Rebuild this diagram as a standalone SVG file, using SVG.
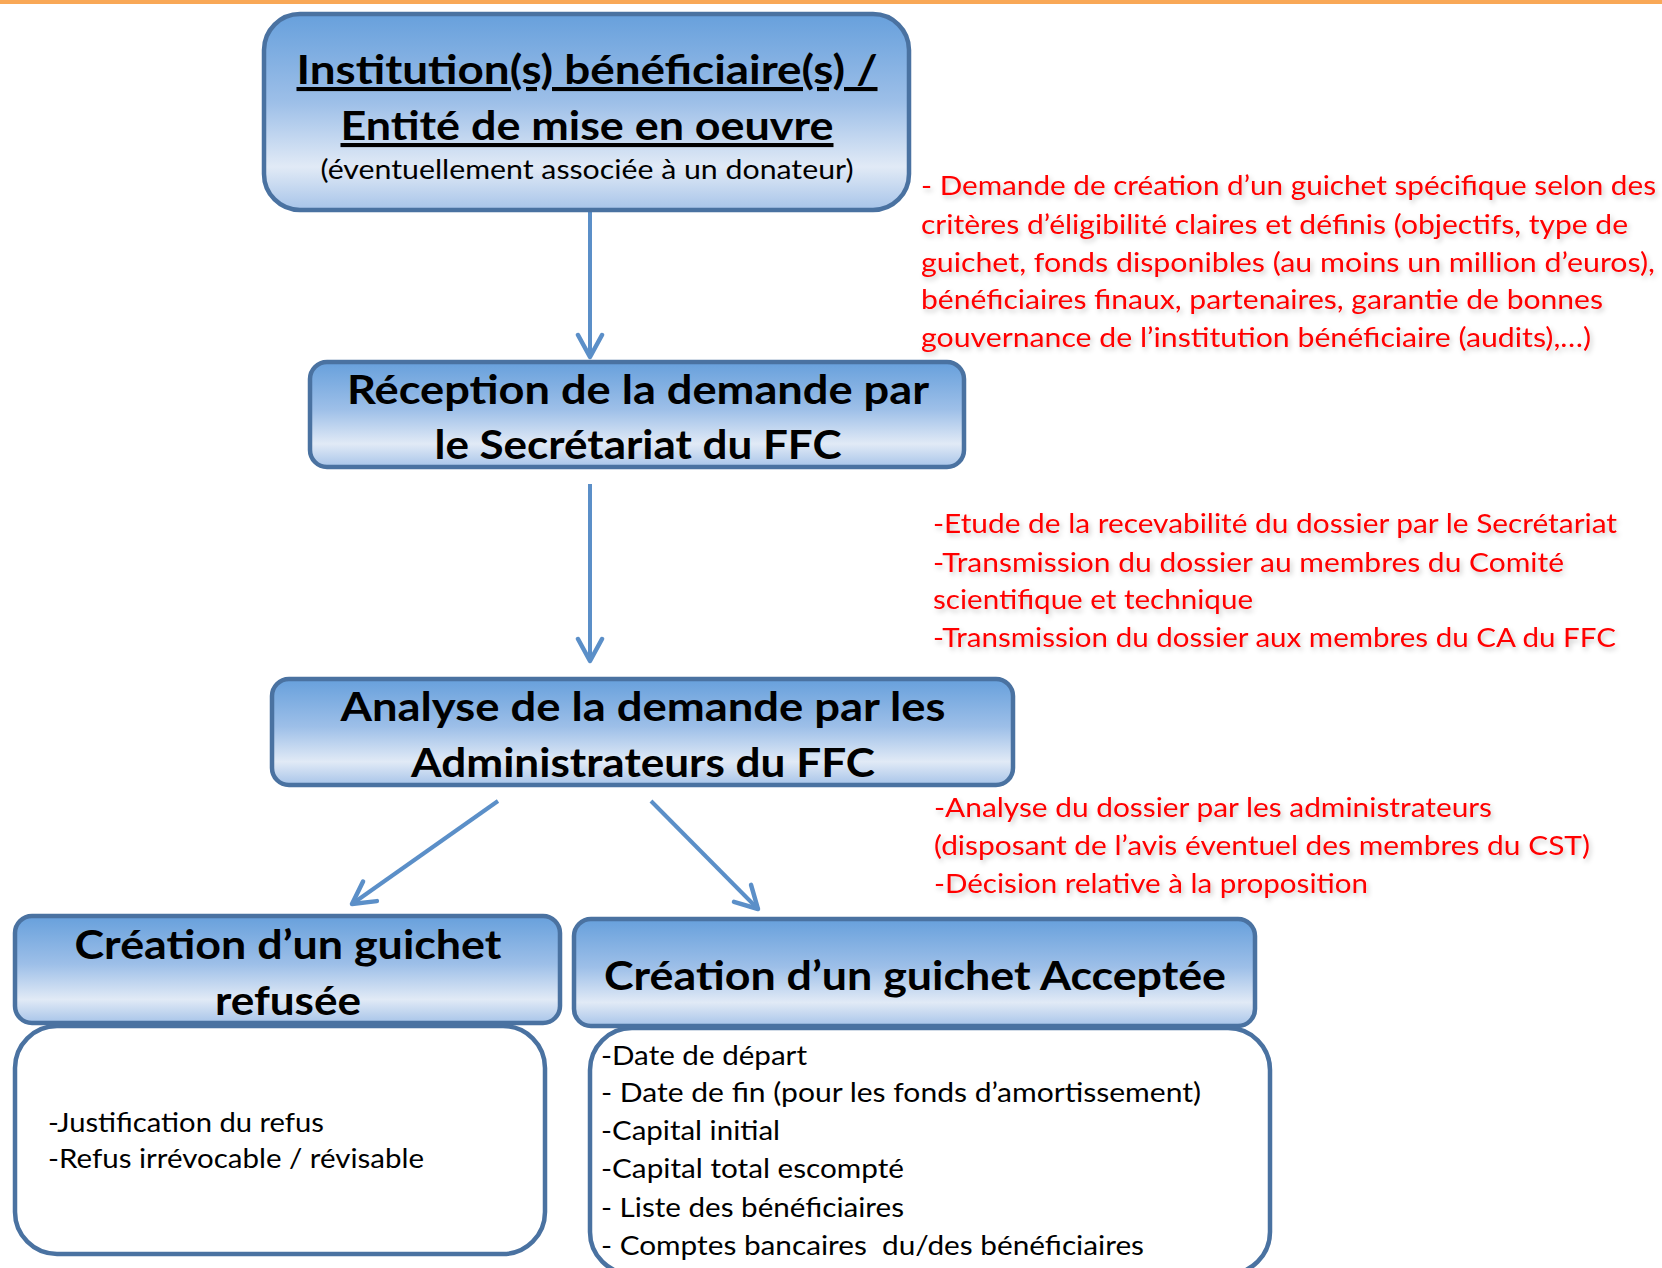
<svg xmlns="http://www.w3.org/2000/svg" width="1662" height="1268" viewBox="0 0 1662 1268">
<style>
.hd{fill:url(#g);stroke:#4a72a1;stroke-width:4.5}
.bd{fill:#ffffff;stroke:#4a72a1;stroke-width:4.5}
.t{font-family:Lato,"Liberation Sans",sans-serif;font-weight:bold;font-size:41px;fill:#000;text-anchor:middle}
.u{text-decoration:underline;text-decoration-skip-ink:none}
.s{font-family:Lato,"Liberation Sans",sans-serif;font-size:26px;fill:#000;text-anchor:middle}
.b{font-family:Lato,"Liberation Sans",sans-serif;font-size:26.5px;fill:#000}
.r{font-family:Lato,"Liberation Sans",sans-serif;font-size:26.5px;fill:#ff0000}
.c{stroke:#5b8fc8;stroke-width:4;fill:none}
</style>
<defs>
<linearGradient id="g" x1="0" y1="0" x2="0" y2="1">
<stop offset="0" stop-color="#67a0dc"/>
<stop offset="0.45" stop-color="#9dbfe8"/>
<stop offset="0.78" stop-color="#e1eaf6"/>
<stop offset="1" stop-color="#a7c4e9"/>
</linearGradient>
<marker id="ah" viewBox="0 0 30 30" refX="26" refY="15" markerWidth="30" markerHeight="30" markerUnits="userSpaceOnUse" orient="auto">
<path d="M4,3 L26,15 L4,27" fill="none" stroke="#5b8fc8" stroke-width="4.5" stroke-linecap="round" stroke-linejoin="round"/>
</marker>
<filter id="sh" x="-5%" y="-20%" width="110%" height="150%">
<feDropShadow dx="2" dy="3" stdDeviation="2.5" flood-color="#000" flood-opacity="0.22"/>
</filter>
</defs>
<rect x="0" y="0" width="1662" height="4" fill="#f9a857"/>

<g id="connectors">
<line class="c" x1="590" y1="212" x2="590" y2="357" marker-end="url(#ah)"/>
<line class="c" x1="590" y1="484" x2="590" y2="661" marker-end="url(#ah)"/>
<line class="c" x1="498" y1="801" x2="352" y2="904" marker-end="url(#ah)"/>
<line class="c" x1="651" y1="801" x2="758" y2="909" marker-end="url(#ah)"/>
</g>

<g id="n1">
<rect class="hd" x="264" y="14" width="645" height="196" rx="36"/>
<text class="t u" x="587" y="84" textLength="581" lengthAdjust="spacingAndGlyphs">Institution(s) bénéficiaire(s) /</text>
<text class="t u" x="587" y="140" textLength="493" lengthAdjust="spacingAndGlyphs">Entité de mise en oeuvre</text>
<text class="s" x="587" y="179" textLength="533" lengthAdjust="spacingAndGlyphs">(éventuellement associée à un donateur)</text>
</g>

<g id="n2">
<rect class="hd" x="310" y="362" width="654" height="105" rx="17"/>
<text class="t" x="638" y="404" textLength="582" lengthAdjust="spacingAndGlyphs">Réception de la demande par</text>
<text class="t" x="638" y="459" textLength="407" lengthAdjust="spacingAndGlyphs">le Secrétariat du FFC</text>
</g>

<g id="n3">
<rect class="hd" x="272" y="679" width="741" height="106" rx="17"/>
<text class="t" x="643" y="721" textLength="605" lengthAdjust="spacingAndGlyphs">Analyse de la demande par les</text>
<text class="t" x="643" y="777" textLength="464" lengthAdjust="spacingAndGlyphs">Administrateurs du FFC</text>
</g>

<g id="n4body">
<rect class="bd" x="15" y="1026" width="530" height="228" rx="42"/>
<text class="b" x="48" y="1132" textLength="276" lengthAdjust="spacingAndGlyphs">-Justification du refus</text>
<text class="b" x="48" y="1168" textLength="376" lengthAdjust="spacingAndGlyphs">-Refus irrévocable / révisable</text>
</g>

<g id="n4">
<rect class="hd" x="15" y="916" width="545" height="107" rx="17"/>
<text class="t" x="288" y="959" textLength="427" lengthAdjust="spacingAndGlyphs">Création d’un guichet</text>
<text class="t" x="288" y="1015" textLength="146" lengthAdjust="spacingAndGlyphs">refusée</text>
</g>

<g id="n5body">
<rect class="bd" x="590" y="1028" width="680" height="246" rx="42"/>
<text class="b" x="601" y="1065" textLength="206" lengthAdjust="spacingAndGlyphs">-Date de départ</text>
<text class="b" x="601" y="1102" textLength="600" lengthAdjust="spacingAndGlyphs">- Date de fin (pour les fonds d’amortissement)</text>
<text class="b" x="601" y="1140" textLength="179" lengthAdjust="spacingAndGlyphs">-Capital initial</text>
<text class="b" x="601" y="1178" textLength="303" lengthAdjust="spacingAndGlyphs">-Capital total escompté</text>
<text class="b" x="601" y="1217" textLength="303" lengthAdjust="spacingAndGlyphs">- Liste des bénéficiaires</text>
<text class="b" x="601" y="1255" textLength="543" lengthAdjust="spacingAndGlyphs" xml:space="preserve">- Comptes bancaires  du/des bénéficiaires</text>
</g>

<g id="n5">
<rect class="hd" x="574" y="919" width="681" height="107" rx="17"/>
<text class="t" x="915" y="990" textLength="622" lengthAdjust="spacingAndGlyphs">Création d’un guichet Acceptée</text>
</g>

<g id="note1" filter="url(#sh)">
<text class="r" x="921" y="195" textLength="735" lengthAdjust="spacingAndGlyphs">- Demande de création d’un guichet spécifique selon des</text>
<text class="r" x="921" y="234" textLength="707" lengthAdjust="spacingAndGlyphs">critères d’éligibilité claires et définis (objectifs, type de</text>
<text class="r" x="921" y="272" textLength="734" lengthAdjust="spacingAndGlyphs">guichet, fonds disponibles (au moins un million d’euros),</text>
<text class="r" x="921" y="309" textLength="682" lengthAdjust="spacingAndGlyphs">bénéficiaires finaux, partenaires, garantie de bonnes</text>
<text class="r" x="921" y="347" textLength="670" lengthAdjust="spacingAndGlyphs">gouvernance de l’institution bénéficiaire (audits),…)</text>
</g>

<g id="note2" filter="url(#sh)">
<text class="r" x="933" y="533" textLength="684" lengthAdjust="spacingAndGlyphs">-Etude de la recevabilité du dossier par le Secrétariat</text>
<text class="r" x="933" y="572" textLength="631" lengthAdjust="spacingAndGlyphs">-Transmission du dossier au membres du Comité</text>
<text class="r" x="933" y="609" textLength="320" lengthAdjust="spacingAndGlyphs">scientifique et technique</text>
<text class="r" x="933" y="647" textLength="683" lengthAdjust="spacingAndGlyphs">-Transmission du dossier aux membres du CA du FFC</text>
</g>

<g id="note3" filter="url(#sh)">
<text class="r" x="934" y="817" textLength="558" lengthAdjust="spacingAndGlyphs">-Analyse du dossier par les administrateurs</text>
<text class="r" x="934" y="855" textLength="656" lengthAdjust="spacingAndGlyphs">(disposant de l’avis éventuel des membres du CST)</text>
<text class="r" x="934" y="893" textLength="434" lengthAdjust="spacingAndGlyphs">-Décision relative à la proposition</text>
</g>
</svg>
